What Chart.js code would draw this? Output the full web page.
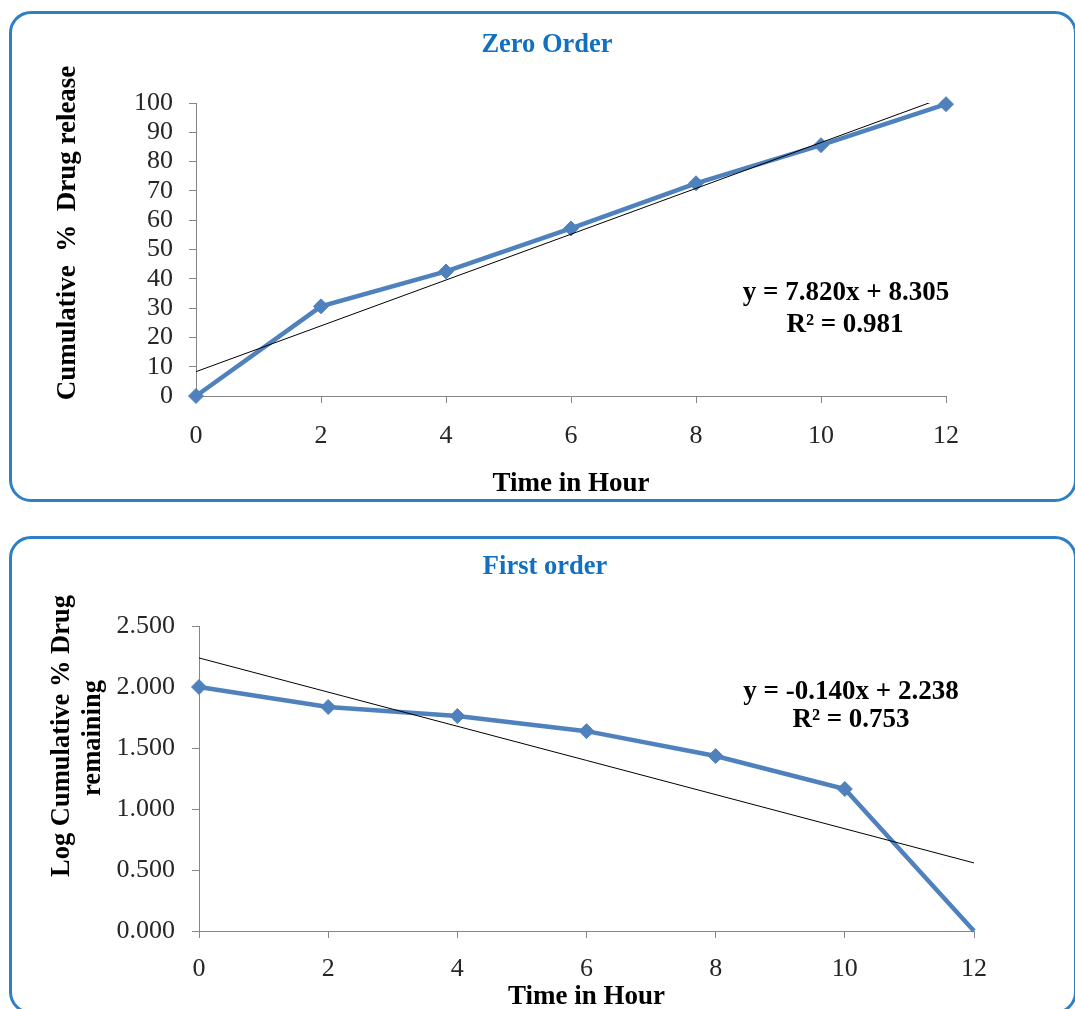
<!DOCTYPE html>
<html>
<head>
<meta charset="utf-8">
<script src="https://cdn.jsdelivr.net/npm/chart.js@4.4.0/dist/chart.umd.min.js"></script>
<style>
  html, body { margin: 0; padding: 0; background: #fff; }
  body { width: 1075px; height: 1009px; position: relative; overflow: hidden; }
  .box { position: absolute; border: 3px solid #2d7fc6; border-radius: 22px; box-sizing: border-box; }
  canvas { position: absolute; left: 0; }
</style>
</head>
<body>
<div class="box" style="left:9px;top:11px;width:1068px;height:491px"></div>
<div class="box" style="left:9px;top:536px;width:1068px;height:478px"></div>
<canvas id="zeroChart" width="1075" height="505" style="top:0"></canvas>
<canvas id="firstChart" width="1075" height="495" style="top:520px"></canvas>

<script>
// data
const hours = [0, 2, 4, 6, 8, 10, 12];
const zeroRelease = [0, 30.6, 42.5, 57.2, 72.6, 85.6, 99.6];
const firstRemaining = [2.000, 1.836, 1.762, 1.638, 1.434, 1.164, 0.000];

// trend lines (ends of the fitted lines shown in the equations)
const fitX = [0, 12];
const zeroFitY = [8.305, 102.145];
const firstFitY = [2.238, 0.558];

const zeroEquation = ['y = 7.820x + 8.305', 'R\u00b2 = 0.981'];
const firstEquation = ['y = -0.140x + 2.238', 'R\u00b2 = 0.753'];

const serif = "'Liberation Serif', 'Times New Roman', serif";
const blue = '#4f81bd';
const axisGray = '#868686';
const tickColor = '#262626';

// draws free text (titles, rotated axis titles, equations)
const textPlugin = {
  id: 'textItems',
  afterDraw(chart, args, opts) {
    const ctx = chart.ctx;
    (opts.items || []).forEach(t => {
      ctx.save();
      ctx.translate(t.x, t.y);
      if (t.rotate) ctx.rotate(t.rotate);
      ctx.font = t.font;
      ctx.fillStyle = t.color || '#000';
      ctx.textAlign = 'center';
      ctx.textBaseline = 'middle';
      ctx.fillText(t.text, 0, 0);
      ctx.restore();
    });
  }
};

function pts(xs, ys) {
  return xs.map((x, i) => ({ x: x, y: ys[i] }));
}

function axisX(titlePadBottom, tickPad, height) {
  return {
    type: 'linear', min: 0, max: 12,
    ticks: { stepSize: 2, padding: tickPad, autoSkip: false, color: tickColor, font: { family: serif, size: 26 } },
    grid: { drawOnChartArea: false, tickLength: 7, color: axisGray },
    border: { color: axisGray, width: 1 },
    title: {
      display: true, text: 'Time in Hour', color: '#000',
      font: { family: serif, size: 27, weight: 'bold' },
      padding: { top: 0, bottom: titlePadBottom }
    },
    afterFit(s) { s.height = height; }
  };
}

function axisY(min, max, step, width, tickPad, fmt) {
  return {
    min: min, max: max,
    ticks: { stepSize: step, padding: tickPad, autoSkip: false, color: tickColor, font: { family: serif, size: 26 }, callback: fmt },
    grid: { drawOnChartArea: false, tickLength: 7, color: axisGray },
    border: { color: axisGray, width: 1 },
    afterFit(s) { s.width = width; }
  };
}

// Zero order
new Chart(document.getElementById('zeroChart'), {
  type: 'line',
  data: {
    datasets: [{
      data: pts(fitX, zeroFitY),
      borderColor: '#000', borderWidth: 1, pointRadius: 0, fill: false
    }, {
      data: pts(hours, zeroRelease),
      borderColor: blue, borderWidth: 4.5, pointStyle: 'rectRot',
      pointRadius: 7.5, pointBackgroundColor: blue, pointBorderColor: blue, pointBorderWidth: 1,
      fill: false, clip: false
    }]
  },
  options: {
    responsive: false, animation: false,
    layout: { padding: { top: 103, right: 129, bottom: 0, left: 0 } },
    plugins: {
      legend: { display: false }, tooltip: { enabled: false },
      textItems: {
        items: [
          { text: 'Zero Order', x: 547, y: 45, font: 'bold 26.5px ' + serif, color: '#1170c0' },
          { text: 'Cumulative  %  Drug release', x: 68, y: 233, rotate: -Math.PI / 2, font: 'bold 27px ' + serif },
          { text: zeroEquation[0], x: 846, y: 293, font: 'bold 27px ' + serif },
          { text: zeroEquation[1], x: 845, y: 325, font: 'bold 27px ' + serif }
        ]
      }
    },
    scales: {
      x: axisX(5, 18, 109),
      y: axisY(0, 100, 10, 196, 16)
    }
  },
  plugins: [textPlugin]
});

// First order
new Chart(document.getElementById('firstChart'), {
  type: 'line',
  data: {
    datasets: [{
      data: pts(fitX, firstFitY),
      borderColor: '#000', borderWidth: 1, pointRadius: 0, fill: false
    }, {
      data: pts(hours, firstRemaining),
      borderColor: blue, borderWidth: 4.5, pointStyle: 'rectRot',
      pointRadius: [7.5, 7.5, 7.5, 7.5, 7.5, 7.5, 0],
      pointBackgroundColor: blue, pointBorderColor: blue, pointBorderWidth: 1,
      fill: false, clip: false
    }]
  },
  options: {
    responsive: false, animation: false,
    layout: { padding: { top: 106, right: 101, bottom: 0, left: 0 } },
    plugins: {
      legend: { display: false }, tooltip: { enabled: false },
      textItems: {
        items: [
          { text: 'First order', x: 545, y: 47, font: 'bold 26.5px ' + serif, color: '#1170c0' },
          { text: 'Log Cumulative % Drug', x: 62, y: 216, rotate: -Math.PI / 2, font: 'bold 26.5px ' + serif },
          { text: 'remaining', x: 93, y: 218, rotate: -Math.PI / 2, font: 'bold 26.5px ' + serif },
          { text: firstEquation[0], x: 851, y: 172, font: 'bold 27px ' + serif },
          { text: firstEquation[1], x: 851, y: 200, font: 'bold 27px ' + serif }
        ]
      }
    },
    scales: {
      x: axisX(2, 16, 84),
      y: axisY(0, 2.5, 0.5, 199, 17, v => v.toFixed(3))
    }
  },
  plugins: [textPlugin]
});
</script>
</body>
</html>
